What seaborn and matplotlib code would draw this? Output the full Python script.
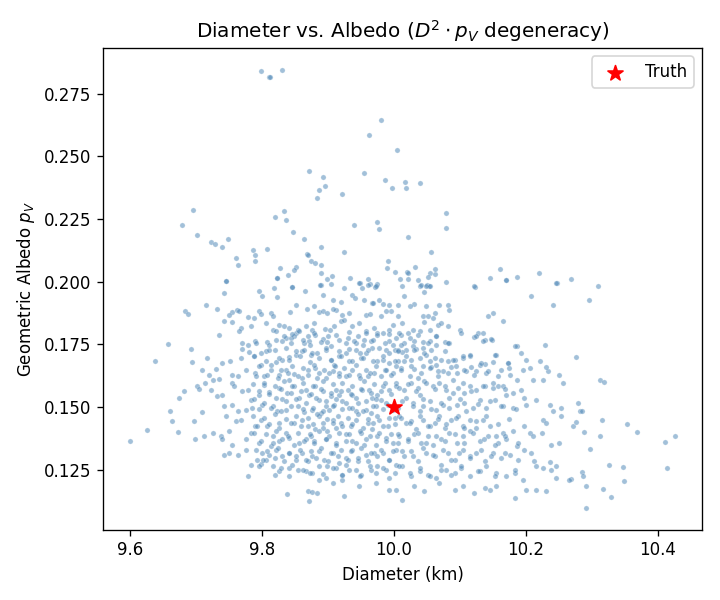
import matplotlib
matplotlib.use("Agg")
import matplotlib.pyplot as plt
import seaborn as sns
import pandas as pd

# posterior samples (diameter km, albedo p_V)
upper_tail = [
    (9.799, 0.2841), (9.811, 0.2817), (9.812, 0.2815), (9.830, 0.2845), (9.980, 0.2645),
    (9.962, 0.2585), (10.004, 0.2525), (9.871, 0.2442), (9.892, 0.2418), (9.954, 0.2434),
    (9.986, 0.2406), (9.997, 0.2374), (9.896, 0.2382), (9.886, 0.2366), (9.883, 0.2334),
    (9.921, 0.2350), (9.696, 0.2286), (9.678, 0.2226), (9.702, 0.2186), (9.819, 0.2258),
    (9.834, 0.2282), (9.836, 0.2246), (9.940, 0.2226), (9.975, 0.2238), (9.978, 0.2210),
    (9.723, 0.2158), (9.728, 0.2150), (9.749, 0.2170), (9.739, 0.2138), (9.847, 0.2198),
    (9.863, 0.2170), (9.889, 0.2138), (9.868, 0.2109), (9.869, 0.2107), (9.874, 0.2082),
    (9.880, 0.2074), (9.890, 0.2066), (9.924, 0.2118), (9.786, 0.2126), (9.789, 0.2106),
    (9.790, 0.2082), (9.808, 0.2130), (9.761, 0.2094), (9.764, 0.2066), (9.827, 0.2054),
    (9.851, 0.2058), (9.849, 0.2046), (9.839, 0.2026), (9.822, 0.2015), (9.823, 0.2013),
    (9.889, 0.2035), (9.898, 0.2011), (9.906, 0.2023), (9.933, 0.2015), (9.960, 0.2011),
    (9.991, 0.2082), (9.989, 0.2054), (10.001, 0.2038), (10.009, 0.2011), (9.746, 0.2003),
    (10.017, 0.2398), (10.018, 0.2374), (10.039, 0.2394), (10.079, 0.2274), (10.079, 0.2214),
    (10.021, 0.2178), (10.056, 0.2118), (10.032, 0.2058), (10.020, 0.2038), (10.021, 0.2036),
    (10.054, 0.2035), (10.062, 0.2031), (10.063, 0.2051), (10.051, 0.2019), (10.021, 0.2011),
    (10.036, 0.2007), (10.161, 0.2050), (10.145, 0.2015), (10.170, 0.2007), (10.186, 0.2019),
    (10.220, 0.2035), (10.247, 0.1995), (10.268, 0.2011), (10.309, 0.1983), (10.123, 0.1979),
    (10.039, 0.1983), (10.050, 0.1987), (10.053, 0.1983), (9.963, 0.1991), (9.948, 0.1995),
    (9.974, 0.1991), (9.971, 0.1979), (9.951, 0.1975), (9.889, 0.1987), (9.845, 0.1979),
    (9.924, 0.1975),
]

side_tails = [
    (9.600, 0.1365), (9.626, 0.1408), (9.637, 0.1684), (9.658, 0.1751), (9.661, 0.1484),
    (9.663, 0.1444), (9.672, 0.1401),
    (10.296, 0.1927), (10.276, 0.1699), (10.312, 0.1608), (10.318, 0.1600), (10.279, 0.1516),
    (10.282, 0.1484), (10.285, 0.1484), (10.315, 0.1448), (10.353, 0.1433), (10.369, 0.1401),
    (10.288, 0.1401), (10.312, 0.1385), (10.426, 0.1385), (10.411, 0.1361), (10.271, 0.1425),
    (10.276, 0.1441), (10.297, 0.1333), (10.326, 0.1269), (10.348, 0.1261), (10.414, 0.1257),
    (10.349, 0.1205), (10.317, 0.1173), (10.329, 0.1141), (10.291, 0.1185), (10.285, 0.1241),
    (10.287, 0.1225), (10.291, 0.1097), (10.268, 0.1213),
]

core_west = [
    (9.746, 0.2001), (9.743, 0.1955), (9.795, 0.1961), (9.800, 0.1944), (9.822, 0.1939),
    (9.818, 0.1975), (9.846, 0.1979), (9.865, 0.1961), (9.888, 0.1988), (9.904, 0.1992),
    (9.892, 0.1948), (9.947, 0.1995), (9.961, 0.1988), (9.973, 0.1984), (9.937, 0.1948),
    (9.941, 0.1935), (9.955, 0.1928), (9.967, 0.1915), (9.908, 0.1928), (9.920, 0.1918),
    (9.912, 0.1888), (9.715, 0.1908), (9.683, 0.1882), (9.688, 0.1871), (9.732, 0.1891),
    (9.755, 0.1878), (9.762, 0.1886), (9.765, 0.1882), (9.750, 0.1868), (9.742, 0.1842),
    (9.755, 0.1838), (9.778, 0.1859), (9.788, 0.1855), (9.795, 0.1882), (9.798, 0.1871),
    (9.813, 0.1875), (9.816, 0.1864), (9.843, 0.1878), (9.852, 0.1908), (9.868, 0.1892),
    (9.879, 0.1902), (9.887, 0.1878), (9.893, 0.1882), (9.899, 0.1875), (9.907, 0.1892),
    (9.921, 0.1868), (9.932, 0.1875), (9.957, 0.1868), (9.963, 0.1872), (9.969, 0.1915),
    (9.977, 0.1928),
    (9.735, 0.1789), (9.768, 0.1815), (9.765, 0.1802), (9.783, 0.1822), (9.806, 0.1835),
    (9.816, 0.1808), (9.826, 0.1828), (9.833, 0.1822), (9.841, 0.1815), (9.851, 0.1795),
    (9.849, 0.1782), (9.854, 0.1808), (9.866, 0.1822), (9.876, 0.1808), (9.879, 0.1835),
    (9.881, 0.1789), (9.895, 0.1811), (9.903, 0.1808), (9.909, 0.1822), (9.919, 0.1842),
    (9.924, 0.1848), (9.937, 0.1822), (9.947, 0.1835), (9.957, 0.1802), (9.970, 0.1815),
    (9.975, 0.1795), (9.770, 0.1755), (9.778, 0.1749), (9.790, 0.1762), (9.807, 0.1758),
    (9.821, 0.1769), (9.836, 0.1775), (9.844, 0.1775), (9.864, 0.1755), (9.871, 0.1762),
    (9.892, 0.1771), (9.899, 0.1758), (9.917, 0.1769), (9.930, 0.1775), (9.942, 0.1755),
    (9.955, 0.1766), (9.965, 0.1762),
    (9.692, 0.1731), (9.694, 0.1678), (9.717, 0.1695), (9.730, 0.1652), (9.740, 0.1676),
    (9.752, 0.1682), (9.768, 0.1695), (9.770, 0.1731), (9.780, 0.1718), (9.788, 0.1702),
    (9.798, 0.1669), (9.806, 0.1722), (9.811, 0.1729), (9.821, 0.1678), (9.831, 0.1689),
    (9.841, 0.1699), (9.851, 0.1709), (9.861, 0.1722), (9.874, 0.1709), (9.881, 0.1656),
    (9.876, 0.1715), (9.897, 0.1729), (9.904, 0.1689), (9.909, 0.1669), (9.917, 0.1705),
    (9.927, 0.1715), (9.932, 0.1682), (9.942, 0.1729), (9.950, 0.1695), (9.957, 0.1715),
    (9.967, 0.1735), (9.975, 0.1682), (9.709, 0.1649), (9.720, 0.1629), (9.725, 0.1609),
    (9.735, 0.1612), (9.755, 0.1629), (9.763, 0.1622), (9.775, 0.1646), (9.790, 0.1636),
    (9.803, 0.1622), (9.813, 0.1649), (9.826, 0.1629), (9.836, 0.1649), (9.849, 0.1633),
    (9.861, 0.1616), (9.869, 0.1649), (9.887, 0.1636), (9.897, 0.1616), (9.907, 0.1642),
    (9.917, 0.1636), (9.927, 0.1622), (9.937, 0.1649), (9.947, 0.1629), (9.960, 0.1622),
    (9.970, 0.1636),
    (9.682, 0.1562), (9.702, 0.1582), (9.704, 0.1572), (9.714, 0.1596), (9.722, 0.1569),
    (9.732, 0.1543), (9.740, 0.1549), (9.755, 0.1596), (9.758, 0.1582), (9.770, 0.1562),
    (9.778, 0.1569), (9.783, 0.1529), (9.795, 0.1549), (9.803, 0.1589), (9.811, 0.1558),
    (9.826, 0.1576), (9.831, 0.1532), (9.838, 0.1556), (9.841, 0.1609), (9.849, 0.1582),
    (9.856, 0.1536), (9.866, 0.1569), (9.871, 0.1549), (9.881, 0.1582), (9.887, 0.1529),
    (9.892, 0.1562), (9.897, 0.1503), (9.904, 0.1543), (9.912, 0.1569), (9.917, 0.1549),
    (9.922, 0.1523), (9.930, 0.1569), (9.937, 0.1549), (9.945, 0.1516), (9.952, 0.1569),
    (9.962, 0.1569), (9.967, 0.1536), (9.975, 0.1549), (9.742, 0.1505), (9.755, 0.1509),
    (9.763, 0.1483), (9.775, 0.1489), (9.785, 0.1496), (9.800, 0.1509), (9.816, 0.1503),
    (9.823, 0.1483), (9.836, 0.1489), (9.854, 0.1503), (9.864, 0.1479), (9.876, 0.1489),
    (9.889, 0.1476), (9.902, 0.1489), (9.909, 0.1509), (9.932, 0.1496), (9.942, 0.1483),
    (9.957, 0.1489), (9.965, 0.1476), (9.973, 0.1503),
    (9.674, 0.1536), (9.697, 0.1443), (9.709, 0.1479), (9.699, 0.1370), (9.712, 0.1383),
    (9.725, 0.1394), (9.737, 0.1383), (9.745, 0.1463), (9.750, 0.1403), (9.760, 0.1443),
    (9.768, 0.1449), (9.783, 0.1396), (9.790, 0.1423), (9.798, 0.1449), (9.808, 0.1423),
    (9.816, 0.1383), (9.826, 0.1436), (9.836, 0.1396), (9.849, 0.1436), (9.861, 0.1449),
    (9.869, 0.1423), (9.874, 0.1383), (9.881, 0.1410), (9.887, 0.1463), (9.892, 0.1436),
    (9.899, 0.1403), (9.907, 0.1449), (9.912, 0.1416), (9.919, 0.1436), (9.927, 0.1390),
    (9.935, 0.1423), (9.942, 0.1449), (9.950, 0.1396), (9.960, 0.1436), (9.967, 0.1410),
    (9.975, 0.1383), (9.740, 0.1370), (9.755, 0.1350), (9.775, 0.1370), (9.795, 0.1356),
    (9.813, 0.1346), (9.826, 0.1363), (9.841, 0.1376), (9.856, 0.1356), (9.866, 0.1370),
    (9.879, 0.1363), (9.897, 0.1370), (9.912, 0.1356), (9.937, 0.1363), (9.955, 0.1350),
    (9.742, 0.1310), (9.750, 0.1316), (9.763, 0.1310), (9.775, 0.1330), (9.783, 0.1270),
    (9.793, 0.1290), (9.800, 0.1316), (9.811, 0.1310), (9.821, 0.1330), (9.831, 0.1303),
    (9.841, 0.1316), (9.851, 0.1290), (9.861, 0.1316), (9.869, 0.1283), (9.876, 0.1303),
    (9.887, 0.1323), (9.894, 0.1290), (9.907, 0.1316), (9.917, 0.1276), (9.927, 0.1296),
    (9.937, 0.1330), (9.945, 0.1283), (9.957, 0.1310), (9.970, 0.1316), (9.778, 0.1226),
    (9.798, 0.1274), (9.806, 0.1290), (9.816, 0.1263), (9.826, 0.1243), (9.841, 0.1257),
    (9.854, 0.1250), (9.866, 0.1243), (9.876, 0.1237), (9.892, 0.1234), (9.899, 0.1263),
    (9.912, 0.1257), (9.922, 0.1230), (9.932, 0.1250), (9.950, 0.1230), (9.965, 0.1250),
    (9.975, 0.1263),
    (9.838, 0.1154), (9.869, 0.1163), (9.876, 0.1161), (9.884, 0.1157), (9.871, 0.1124),
    (9.887, 0.1210), (9.907, 0.1197), (9.924, 0.1146), (9.947, 0.1183), (9.922, 0.1210),
]

core_east = [
    (10.041, 0.1988), (10.049, 0.1984), (10.054, 0.1984), (10.046, 0.1957), (10.079, 0.1997),
    (10.122, 0.1981), (10.170, 0.2005), (10.208, 0.1944), (10.246, 0.1995), (10.241, 0.1908),
    (10.013, 0.1981), (10.016, 0.1944), (10.031, 0.1912), (10.049, 0.1904), (10.069, 0.1908),
    (10.082, 0.1908), (10.084, 0.1888), (9.993, 0.1908), (9.996, 0.1882), (9.988, 0.1882),
    (9.983, 0.1912), (10.006, 0.1908), (10.024, 0.1902), (10.006, 0.1862), (9.981, 0.1862),
    (10.044, 0.1864), (10.052, 0.1862), (10.062, 0.1875), (10.059, 0.1855), (10.143, 0.1862),
    (10.150, 0.1875), (10.165, 0.1842), (10.100, 0.1808), (10.122, 0.1779), (10.127, 0.1795),
    (10.135, 0.1795), (10.138, 0.1769), (10.149, 0.1769), (10.155, 0.1709), (10.186, 0.1745),
    (10.193, 0.1715), (10.201, 0.1689), (10.196, 0.1649), (10.206, 0.1656), (10.229, 0.1749),
    (9.993, 0.1808), (9.998, 0.1828), (10.013, 0.1835), (10.029, 0.1808), (10.039, 0.1802),
    (10.046, 0.1838), (10.054, 0.1808), (10.067, 0.1828), (10.072, 0.1835), (10.082, 0.1822),
    (10.064, 0.1782), (10.077, 0.1758), (10.084, 0.1755), (10.011, 0.1789), (10.021, 0.1795),
    (10.031, 0.1762), (10.044, 0.1758), (10.054, 0.1762), (9.993, 0.1762), (9.983, 0.1795),
    (10.016, 0.1755), (9.988, 0.1729), (10.001, 0.1729), (10.019, 0.1729), (10.034, 0.1731),
    (10.044, 0.1735), (10.057, 0.1729), (10.064, 0.1749),
    (9.983, 0.1689), (9.993, 0.1676), (10.006, 0.1682), (10.013, 0.1718), (10.026, 0.1689),
    (10.039, 0.1695), (10.049, 0.1709), (10.054, 0.1682), (10.064, 0.1669), (10.072, 0.1689),
    (10.082, 0.1682), (10.092, 0.1689), (10.105, 0.1695), (10.115, 0.1702), (10.130, 0.1669),
    (10.138, 0.1673), (10.150, 0.1678), (10.173, 0.1676), (9.986, 0.1649), (9.998, 0.1636),
    (10.011, 0.1656), (10.024, 0.1622), (10.031, 0.1652), (10.044, 0.1662), (10.057, 0.1660),
    (10.067, 0.1622), (10.074, 0.1642), (10.087, 0.1660), (10.095, 0.1636), (10.110, 0.1642),
    (10.117, 0.1660), (10.125, 0.1642), (10.140, 0.1636), (10.163, 0.1649), (10.176, 0.1629),
    (10.186, 0.1609), (10.211, 0.1609), (10.221, 0.1682), (10.226, 0.1609), (10.234, 0.1642),
    (10.231, 0.1660), (10.251, 0.1629), (10.256, 0.1596),
    (9.983, 0.1582), (9.993, 0.1569), (10.003, 0.1596), (10.016, 0.1569), (10.026, 0.1596),
    (10.036, 0.1576), (10.046, 0.1602), (10.059, 0.1582), (10.069, 0.1596), (10.079, 0.1569),
    (10.089, 0.1609), (10.097, 0.1576), (10.107, 0.1556), (10.115, 0.1582), (10.125, 0.1569),
    (10.138, 0.1582), (10.150, 0.1576), (10.158, 0.1582), (10.165, 0.1582), (10.170, 0.1549),
    (10.181, 0.1556), (10.193, 0.1569), (10.198, 0.1536), (9.981, 0.1529), (9.991, 0.1509),
    (9.998, 0.1489), (10.019, 0.1536), (10.029, 0.1516), (10.039, 0.1549), (10.044, 0.1503),
    (10.054, 0.1523), (10.064, 0.1489), (10.074, 0.1509), (10.084, 0.1536), (10.095, 0.1509),
    (10.107, 0.1516), (10.120, 0.1496), (10.130, 0.1529), (10.140, 0.1496), (10.153, 0.1529),
    (10.165, 0.1503), (10.181, 0.1496), (10.201, 0.1509), (10.216, 0.1529), (10.236, 0.1509),
    (10.254, 0.1496),
    (9.978, 0.1449), (9.991, 0.1423), (10.001, 0.1456), (10.008, 0.1463), (10.019, 0.1436),
    (10.026, 0.1443), (10.034, 0.1410), (10.044, 0.1449), (10.054, 0.1423), (10.062, 0.1436),
    (10.069, 0.1463), (10.077, 0.1416), (10.087, 0.1449), (10.097, 0.1463), (10.105, 0.1423),
    (10.115, 0.1449), (10.125, 0.1416), (10.135, 0.1449), (10.145, 0.1423), (10.155, 0.1383),
    (10.165, 0.1396), (10.181, 0.1403), (10.198, 0.1423), (10.206, 0.1396), (10.226, 0.1449),
    (10.231, 0.1436), (10.224, 0.1396), (10.251, 0.1356), (10.241, 0.1483), (10.254, 0.1463),
    (9.988, 0.1376), (9.998, 0.1356), (10.008, 0.1383), (10.021, 0.1363), (10.031, 0.1390),
    (10.041, 0.1356), (10.052, 0.1383), (10.059, 0.1350), (10.072, 0.1370), (10.084, 0.1396),
    (10.095, 0.1356), (10.105, 0.1383), (10.115, 0.1403), (10.130, 0.1363), (10.143, 0.1383),
    (10.158, 0.1356), (10.170, 0.1370), (10.186, 0.1343), (10.211, 0.1383), (10.239, 0.1350),
    (9.983, 0.1316), (9.993, 0.1290), (10.003, 0.1330), (10.016, 0.1303), (10.026, 0.1323),
    (10.036, 0.1283), (10.049, 0.1316), (10.062, 0.1303), (10.072, 0.1270), (10.082, 0.1316),
    (10.092, 0.1290), (10.105, 0.1330), (10.115, 0.1303), (10.125, 0.1316), (10.138, 0.1283),
    (10.150, 0.1316), (10.163, 0.1296), (10.176, 0.1310), (10.188, 0.1290), (10.198, 0.1330),
    (10.208, 0.1316), (10.213, 0.1283), (10.236, 0.1279), (10.246, 0.1263), (9.988, 0.1250),
    (10.001, 0.1237), (10.013, 0.1263), (10.026, 0.1223), (10.039, 0.1243), (10.052, 0.1230),
    (10.064, 0.1217), (10.079, 0.1250), (10.092, 0.1237), (10.102, 0.1257), (10.115, 0.1223),
    (10.130, 0.1243), (10.140, 0.1263), (10.155, 0.1237), (10.170, 0.1223), (10.183, 0.1237),
    (10.196, 0.1210), (10.216, 0.1263), (10.226, 0.1257), (10.239, 0.1250),
    (9.973, 0.1197), (9.993, 0.1167), (10.003, 0.1170), (10.013, 0.1130), (10.031, 0.1183),
    (10.046, 0.1163), (10.069, 0.1197), (10.092, 0.1167), (10.105, 0.1183), (10.122, 0.1157),
    (10.138, 0.1177), (10.145, 0.1167), (10.155, 0.1183), (10.183, 0.1137), (10.201, 0.1170),
    (10.216, 0.1170), (10.231, 0.1163), (10.246, 0.1217), (10.266, 0.1210),
]

# extra samples read from close-ups of the dense centre
dense_west = [
    (9.821, 0.1802), (9.834, 0.1785), (9.846, 0.1793), (9.856, 0.1802), (9.869, 0.1782),
    (9.879, 0.1796), (9.900, 0.1782), (9.912, 0.1789), (9.932, 0.1798), (9.945, 0.1782),
    (9.958, 0.1796), (9.975, 0.1789), (9.993, 0.1793), (10.003, 0.1776),
    (9.791, 0.1756), (9.811, 0.1749), (9.831, 0.1762), (9.844, 0.1756), (9.862, 0.1769),
    (9.872, 0.1749), (9.889, 0.1758), (9.905, 0.1745), (9.927, 0.1756), (9.940, 0.1762),
    (9.953, 0.1749), (9.968, 0.1769), (9.986, 0.1756), (9.998, 0.1749),
    (9.798, 0.1716), (9.819, 0.1729), (9.836, 0.1736), (9.851, 0.1723), (9.864, 0.1729),
    (9.884, 0.1716), (9.897, 0.1736), (9.917, 0.1723), (9.932, 0.1732), (9.948, 0.1716),
    (9.960, 0.1729), (9.978, 0.1736), (9.993, 0.1716), (10.006, 0.1729),
    (9.788, 0.1703), (9.806, 0.1683), (9.826, 0.1696), (9.841, 0.1689), (9.857, 0.1703),
    (9.872, 0.1679), (9.887, 0.1696), (9.905, 0.1689), (9.920, 0.1703), (9.937, 0.1683),
    (9.953, 0.1696), (9.968, 0.1683), (9.983, 0.1703), (10.001, 0.1683),
    (9.796, 0.1663), (9.813, 0.1669), (9.829, 0.1649), (9.846, 0.1663), (9.862, 0.1656),
    (9.879, 0.1669), (9.894, 0.1649), (9.910, 0.1663), (9.925, 0.1656), (9.943, 0.1669),
    (9.958, 0.1649), (9.973, 0.1663), (9.988, 0.1649), (10.003, 0.1663),
    (9.791, 0.1623), (9.808, 0.1629), (9.824, 0.1616), (9.839, 0.1636), (9.854, 0.1623),
    (9.869, 0.1629), (9.884, 0.1616), (9.902, 0.1636), (9.917, 0.1623), (9.932, 0.1629),
    (9.948, 0.1616), (9.963, 0.1636), (9.980, 0.1623), (9.996, 0.1629),
    (9.786, 0.1590), (9.803, 0.1596), (9.819, 0.1583), (9.834, 0.1603), (9.846, 0.1583),
    (9.862, 0.1596), (9.877, 0.1583), (9.892, 0.1603), (9.907, 0.1590), (9.922, 0.1596),
    (9.937, 0.1583), (9.955, 0.1603), (9.970, 0.1590), (9.986, 0.1596), (10.003, 0.1583),
    (9.796, 0.1563), (9.811, 0.1550), (9.829, 0.1570), (9.844, 0.1556), (9.859, 0.1563),
    (9.874, 0.1550), (9.889, 0.1570), (9.905, 0.1556), (9.920, 0.1563), (9.935, 0.1550),
    (9.950, 0.1570), (9.965, 0.1556), (9.980, 0.1563), (9.996, 0.1550),
    (9.788, 0.1530), (9.803, 0.1516), (9.821, 0.1536), (9.836, 0.1523), (9.851, 0.1530),
    (9.867, 0.1516), (9.882, 0.1536), (9.897, 0.1523), (9.912, 0.1530), (9.927, 0.1516),
    (9.943, 0.1536), (9.958, 0.1523), (9.973, 0.1530), (9.988, 0.1516),
    (9.796, 0.1490), (9.814, 0.1496), (9.829, 0.1483), (9.844, 0.1503), (9.862, 0.1490),
    (9.877, 0.1496), (9.892, 0.1483), (9.907, 0.1503), (9.922, 0.1490), (9.937, 0.1496),
    (9.953, 0.1483), (9.968, 0.1503), (9.983, 0.1490), (10.006, 0.1496),
    (9.786, 0.1463), (9.803, 0.1457), (9.819, 0.1470), (9.836, 0.1450), (9.851, 0.1463),
    (9.869, 0.1457), (9.884, 0.1470), (9.899, 0.1450), (9.915, 0.1463), (9.930, 0.1457),
    (9.945, 0.1470), (9.960, 0.1450), (9.975, 0.1463), (9.993, 0.1457),
    (9.793, 0.1423), (9.811, 0.1430), (9.826, 0.1417), (9.844, 0.1437), (9.859, 0.1423),
    (9.877, 0.1430), (9.892, 0.1417), (9.907, 0.1437), (9.922, 0.1423), (9.937, 0.1430),
    (9.953, 0.1417), (9.968, 0.1437), (9.983, 0.1423), (10.001, 0.1430),
    (9.788, 0.1397), (9.806, 0.1390), (9.821, 0.1403), (9.839, 0.1383), (9.854, 0.1397),
    (9.872, 0.1390), (9.887, 0.1403), (9.902, 0.1383), (9.917, 0.1397), (9.932, 0.1390),
    (9.948, 0.1403), (9.963, 0.1383), (9.978, 0.1397), (9.996, 0.1390),
    (9.798, 0.1363), (9.816, 0.1357), (9.831, 0.1370), (9.849, 0.1350), (9.864, 0.1363),
    (9.879, 0.1357), (9.897, 0.1370), (9.912, 0.1350), (9.927, 0.1363), (9.943, 0.1357),
    (9.958, 0.1370), (9.973, 0.1350), (9.988, 0.1363), (10.006, 0.1357),
    (9.791, 0.1330), (9.808, 0.1323), (9.824, 0.1337), (9.841, 0.1317), (9.857, 0.1330),
    (9.874, 0.1323), (9.889, 0.1337), (9.905, 0.1317), (9.920, 0.1330), (9.935, 0.1323),
    (9.950, 0.1337), (9.965, 0.1317), (9.980, 0.1330), (9.998, 0.1323),
    (9.801, 0.1290), (9.819, 0.1297), (9.834, 0.1284), (9.851, 0.1304), (9.867, 0.1290),
    (9.882, 0.1297), (9.900, 0.1284), (9.915, 0.1304), (9.930, 0.1290), (9.945, 0.1297),
    (9.960, 0.1284), (9.975, 0.1304), (9.993, 0.1290),
    (9.796, 0.1264), (9.829, 0.1257), (9.846, 0.1270), (9.862, 0.1250), (9.887, 0.1264),
    (9.907, 0.1257), (9.927, 0.1270), (9.943, 0.1250), (9.963, 0.1264), (9.983, 0.1257),
    (10.003, 0.1270),
    (9.819, 0.1230), (9.841, 0.1224), (9.872, 0.1237), (9.897, 0.1217), (9.922, 0.1230),
    (9.948, 0.1224), (9.973, 0.1237), (9.993, 0.1217),
]

dense_east = [
    (10.008, 0.1796), (10.024, 0.1776), (10.036, 0.1789), (10.051, 0.1756), (10.064, 0.1782),
    (10.082, 0.1756), (10.102, 0.1796), (10.125, 0.1782), (10.135, 0.1762), (10.148, 0.1772),
    (10.183, 0.1745), (10.011, 0.1749), (10.029, 0.1745),
    (10.006, 0.1723), (10.019, 0.1703), (10.031, 0.1729), (10.046, 0.1716), (10.062, 0.1696),
    (10.077, 0.1723), (10.089, 0.1689), (10.105, 0.1703), (10.115, 0.1709), (10.132, 0.1676),
    (10.153, 0.1709), (10.173, 0.1676), (10.016, 0.1683),
    (10.011, 0.1649), (10.026, 0.1663), (10.041, 0.1636), (10.054, 0.1656), (10.067, 0.1643),
    (10.082, 0.1636), (10.094, 0.1663), (10.107, 0.1649), (10.122, 0.1629), (10.142, 0.1643),
    (10.158, 0.1623), (10.175, 0.1656), (10.036, 0.1616),
    (10.008, 0.1576), (10.021, 0.1590), (10.034, 0.1563), (10.049, 0.1596), (10.062, 0.1570),
    (10.077, 0.1583), (10.089, 0.1556), (10.105, 0.1596), (10.117, 0.1563), (10.135, 0.1583),
    (10.150, 0.1596), (10.168, 0.1570),
    (10.013, 0.1523), (10.029, 0.1503), (10.044, 0.1530), (10.056, 0.1490), (10.072, 0.1516),
    (10.084, 0.1496), (10.100, 0.1530), (10.110, 0.1483), (10.127, 0.1510), (10.145, 0.1523),
    (10.163, 0.1503), (10.185, 0.1490), (10.039, 0.1483),
    (10.011, 0.1457), (10.024, 0.1437), (10.039, 0.1463), (10.051, 0.1423), (10.067, 0.1450),
    (10.079, 0.1430), (10.094, 0.1457), (10.107, 0.1417), (10.125, 0.1443), (10.140, 0.1463),
    (10.158, 0.1430), (10.175, 0.1450),
    (10.006, 0.1390), (10.021, 0.1370), (10.036, 0.1397), (10.049, 0.1357), (10.064, 0.1383),
    (10.077, 0.1363), (10.092, 0.1390), (10.107, 0.1357), (10.120, 0.1397), (10.137, 0.1370),
    (10.153, 0.1350), (10.168, 0.1383), (10.188, 0.1357),
    (10.013, 0.1323), (10.029, 0.1304), (10.044, 0.1337), (10.059, 0.1310), (10.074, 0.1330),
    (10.087, 0.1290), (10.099, 0.1317), (10.115, 0.1297), (10.132, 0.1330), (10.148, 0.1304),
    (10.168, 0.1317),
    (10.008, 0.1264), (10.024, 0.1237), (10.039, 0.1257), (10.054, 0.1224), (10.072, 0.1250),
    (10.087, 0.1230), (10.102, 0.1264), (10.127, 0.1244), (10.153, 0.1224), (10.183, 0.1250),
]

truth_diameter = 10.0
truth_albedo = 0.15

samples = pd.DataFrame(upper_tail + side_tails + core_west + core_east + dense_west + dense_east,
                       columns=["diameter", "albedo"])

fig, ax = plt.subplots(figsize=(6, 5), dpi=120)

sns.scatterplot(data=samples, x="diameter", y="albedo", ax=ax,
                color="steelblue", s=10, alpha=0.5, linewidth=0.3, edgecolor="white")
ax.scatter([truth_diameter], [truth_albedo], marker="*", s=90, color="red",
           zorder=5, label="Truth")

ax.set_xlabel("Diameter (km)")
ax.set_ylabel("Geometric Albedo $p_V$")
ax.set_title(r"Diameter vs. Albedo ($D^2 \cdot p_V$ degeneracy)")
ax.legend(loc="upper right")

fig.subplots_adjust(left=0.143, right=0.975, top=0.92, bottom=0.117)
fig.savefig("out.png", dpi=120)
